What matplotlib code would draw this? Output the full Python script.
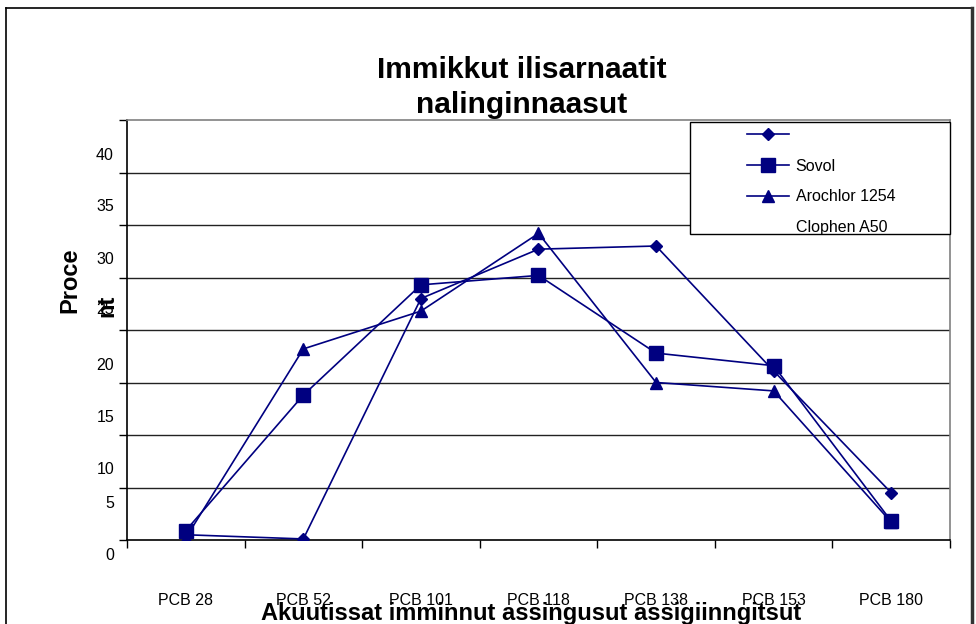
import numpy as np
import matplotlib.pyplot as plt
from matplotlib.lines import Line2D
from matplotlib.patches import Rectangle

plt.rcParams['font.family'] = ['Liberation Sans', 'DejaVu Sans']

# data
categories = ['PCB 28', 'PCB 52', 'PCB 101', 'PCB 118', 'PCB 138', 'PCB 153', 'PCB 180']
diamond_vals = [0.5, 0.1, 23.0, 27.7, 28.0, 16.1, 4.5]
sovol_vals = [0.9, 13.8, 24.3, 25.2, 17.8, 16.6, 1.8]
arochlor_vals = [0.2, 18.2, 21.8, 29.2, 15.0, 14.2, 1.7]
legend_labels = ['', 'Sovol', 'Arochlor 1254', 'Clophen A50']
ytick_labels = ['0', '5', '10', '15', '20', '25', '30', '35', '40']

navy = '#000080'
W, H = 976, 624

fig = plt.figure(figsize=(9.76, 6.24), dpi=100)
ax = fig.add_axes([127 / W, 1 - 540 / H, 823 / W, 420 / H])

x = np.arange(len(categories)) + 0.5
l1, = ax.plot(x, diamond_vals, color=navy, lw=1.2, marker='D', ms=6, zorder=3)
l2, = ax.plot(x, sovol_vals, color=navy, lw=1.2, marker='s', ms=10.5, zorder=3)
l3, = ax.plot(x, arochlor_vals, color=navy, lw=1.2, marker='^', ms=8, zorder=3)

ax.set_xlim(0, len(categories))
ax.set_ylim(0, 40)

# gridlines
for v in range(5, 40, 5):
    ax.axhline(v, color='#222222', lw=1, zorder=1)

ax.set_yticks(range(0, 45, 5))
ax.set_yticklabels([])
ax.tick_params(axis='y', direction='out', length=6, width=1)

ax.set_xticks(np.arange(len(categories) + 1))
ax.set_xticklabels([])
ax.set_xticks(x, minor=True)
ax.set_xticklabels(categories, minor=True, fontsize=11.5)
ax.tick_params(axis='x', which='major', direction='out', length=6, width=1)
ax.tick_params(axis='x', which='minor', length=0, pad=38)

for s in ['left', 'bottom']:
    ax.spines[s].set_color('black')
    ax.spines[s].set_linewidth(1.2)
for s in ['top', 'right']:
    ax.spines[s].set_color('#808080')
    ax.spines[s].set_linewidth(1.2)

# y tick labels sit off their gridlines in the original
label_px = [556, 504, 470, 418, 365, 309, 259, 207, 155]
for lab, py in zip(ytick_labels, label_px):
    fig.text(114 / W, 1 - py / H, lab, ha='right', va='center', fontsize=11.5)

# titles
fig.text(522 / W, 1 - 70 / H, 'Immikkut ilisarnaatit', ha='center', va='center',
         fontsize=21.5, fontweight='bold')
fig.text(522 / W, 1 - 105 / H, 'nalinginnaasut', ha='center', va='center',
         fontsize=21.5, fontweight='bold')
fig.text(531 / W, 1 - 602 / H, 'Akuutissat imminnut assingusut assigiinngitsut',
         ha='center', va='top', fontsize=17, fontweight='bold')
fig.text(70 / W, 1 - 313 / H, 'Proce', rotation=90, ha='center', va='bottom',
         fontsize=17, fontweight='bold')
fig.text(107 / W, 1 - 317 / H, 'nt', rotation=90, ha='center', va='bottom',
         fontsize=17, fontweight='bold')

# legend box
fig.patches.append(Rectangle((690 / W, 1 - 234 / H), 260 / W, 112 / H,
                             transform=fig.transFigure, facecolor='white',
                             edgecolor='black', lw=1, zorder=4))
blank = Line2D([], [], color='none')
leg = fig.legend([l1, l2, l3, blank], legend_labels, loc='upper left',
                 bbox_to_anchor=(747 / W, 1 - 128 / H), frameon=False,
                 fontsize=11.5, labelspacing=0.98, handlelength=2.6,
                 handletextpad=0.45, borderpad=0, borderaxespad=0)
leg.set_zorder(5)

# outer frame
fig.add_artist(Line2D([6 / W, 6 / W], [0, 1 - 8 / H], color='black', lw=1.2))
fig.add_artist(Line2D([6 / W, 971 / W], [1 - 8 / H, 1 - 8 / H], color='black', lw=1.2))
fig.add_artist(Line2D([972 / W, 972 / W], [0, 1 - 8 / H], color='#333333', lw=2.5))

fig.savefig('out.png', dpi=100)
